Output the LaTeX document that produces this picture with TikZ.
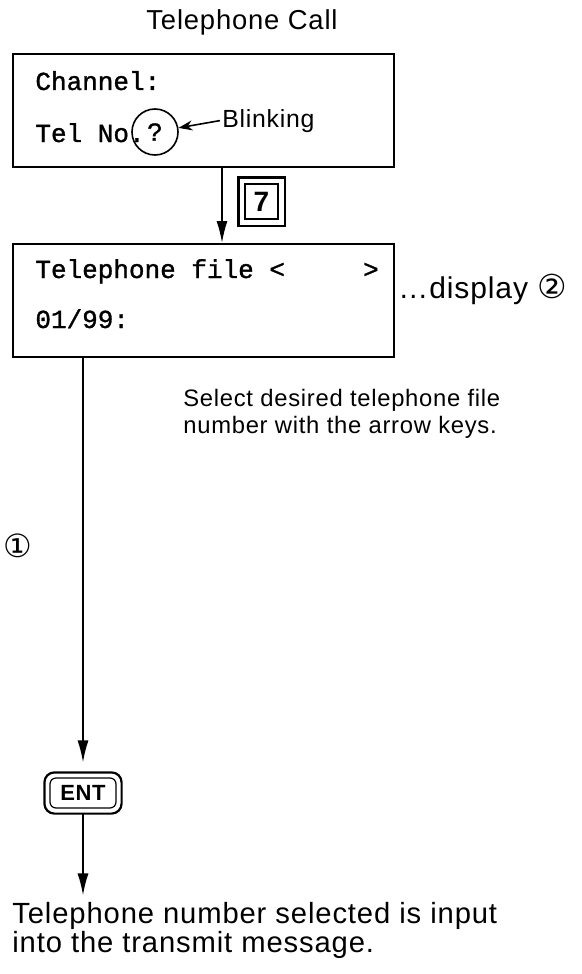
\documentclass[tikz,border=0pt]{standalone}
\usepackage{fontspec}
\setmainfont{Liberation Sans}[LetterSpace=3]
\setmonofont{Liberation Mono}[FakeBold=1.2]
\newfontfamily\circfont{DejaVu Sans}
\usetikzlibrary{arrows.meta, positioning}

\begin{document}
\begin{tikzpicture}[x=0.5pt, y=-0.5pt,
    lcd/.style={draw, line width=0.9pt, anchor=north west, inner sep=0pt,
                minimum width=190.5pt, minimum height=56.5pt},
    lcdtxt/.style={anchor=base west, inner sep=0pt, font=\fontsize{13}{15}\ttfamily},
    note/.style={anchor=base west, inner sep=0pt, align=left, font=\fontsize{11.9}{13.5}\selectfont},
    flow/.style={line width=0.8pt, -{Latex[length=11pt, width=5.5pt]}},
    keyface/.style={draw, line width=0.6pt, inner sep=0pt, font=\bfseries}]
  \useasboundingbox (0,0) rectangle (582,974);

  % first display
  \node[anchor=base, font=\fontsize{13.7}{15}\selectfont] (title) at (242,30) {Telephone Call};
  \node[lcd] (telcall) at (12,53) {};
  \node[lcdtxt] (chan) at (35,90) {Channel:};
  \node[lcdtxt] (telno) at (35,142) {Tel No.};
  \node[draw, circle, line width=0.8pt, minimum size=23pt, inner sep=0pt,
        font=\fontsize{13}{15}\ttfamily] (blinkpos) at (155,132) {?};
  \node[anchor=base west, inner sep=0pt, font=\fontsize{12.4}{15}\selectfont] (blink) at (222,127) {Blinking};
  \draw[line width=0.8pt, -{Stealth[length=7pt, width=5pt]}] ([xshift=-1pt]blink.west) -- (blinkpos);

  % key 7
  \coordinate (drop1) at ([xshift=105pt]telcall.south west);
  \node[lcd, minimum height=56.5pt] (telfile) at (12,243) {};
  \draw[flow] (drop1) -- (drop1 |- telfile.north);
  \node[keyface, minimum width=16.5pt, minimum height=17.5pt,
        font=\fontsize{14}{15}\bfseries] (key7) at (261.5,201.5) {7};
  \draw[line width=1.1pt] ([shift={(-3pt,3pt)}]key7.north west) rectangle ([shift={(3pt,-3pt)}]key7.south east);

  % second display
  \node[lcdtxt] (tfline) at (35,278) {Telephone file <~~~~~>};
  \node[lcdtxt] (fileno) at (35,328) {01/99:};
  \node[anchor=base west, inner sep=0pt, font=\fontsize{15}{15}\selectfont] (disp2) at (398,298)
    {\ldots display {\circfont\fontsize{16.5}{16}\selectfont ②}};

  \node[note] (select) at (183,433) {Select desired telephone file\\number with the arrow keys.};
  \node[font=\fontsize{16}{16}\circfont] (step1) at (18,546) {①};

  % ENT key
  \node[keyface, rounded corners=3pt, minimum width=33pt, minimum height=15pt,
        font=\fontsize{11}{12}\bfseries] (ent) at (83,793) {ENT};
  \draw[line width=1.1pt, rounded corners=5pt] ([shift={(-2.5pt,2.5pt)}]ent.north west) rectangle ([shift={(2.5pt,-2.5pt)}]ent.south east);
  \coordinate (drop2) at ([xshift=35.5pt]telfile.south west);
  \draw[flow] (drop2) -- ([yshift=7.5pt]drop2 |- ent.north);

  \node[note, font=\fontsize{14.6}{14.5}\selectfont] (result) at (12,952)
    {Telephone number selected is input\\into the transmit message.};
  \coordinate (enttip) at ([yshift=-2.5pt]ent.south);
  \draw[flow] (enttip) -- ([yshift=3pt]enttip |- result.north);
\end{tikzpicture}
\end{document}
